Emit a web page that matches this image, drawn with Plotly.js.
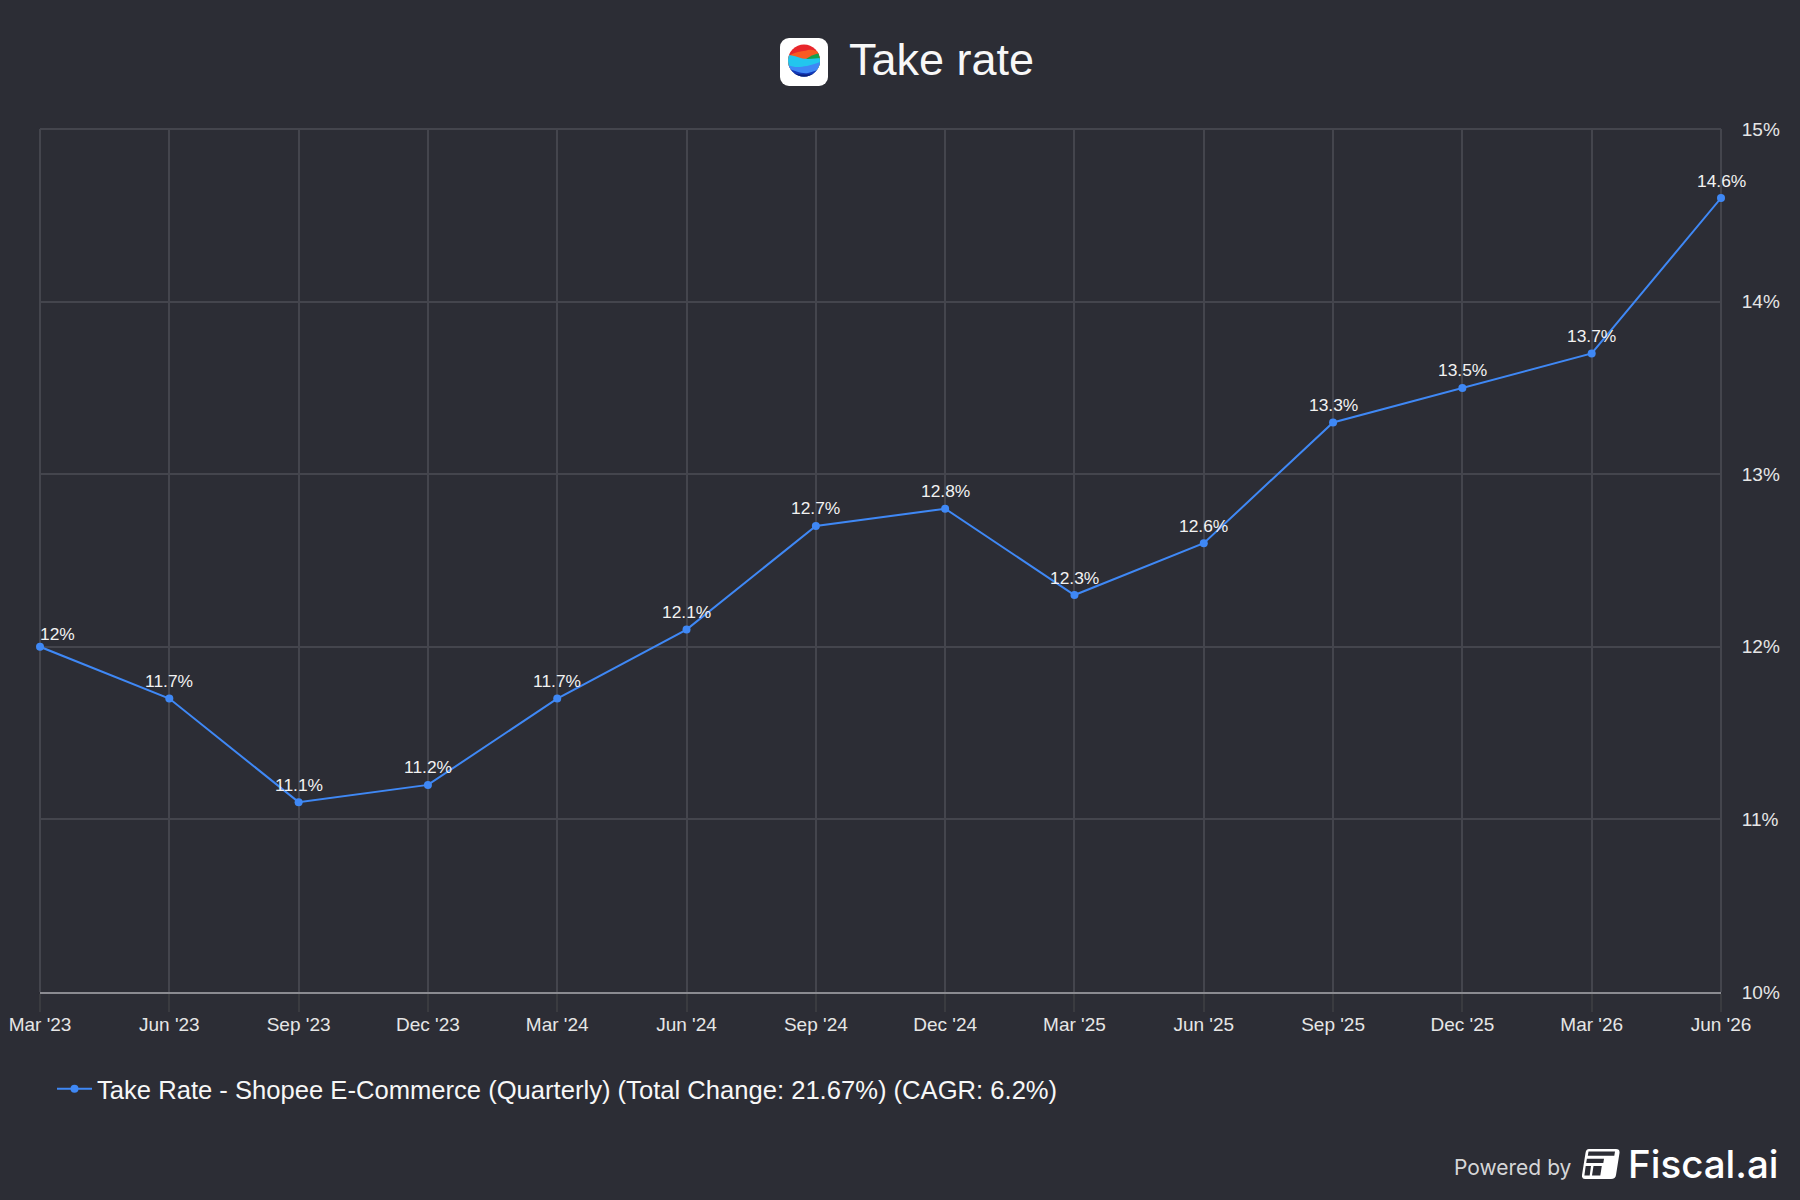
<!DOCTYPE html>
<html>
<head>
<meta charset="utf-8">
<script src="https://cdn.plot.ly/plotly-3.0.1.min.js"></script>
<style>
  html, body { margin: 0; padding: 0; background: #2c2d35; }
  #chart { width: 1800px; height: 1200px; }
</style>
</head>
<body>
<div id="chart"></div>
<script>
// Take rate, quarterly
const quarters = ["Mar '23", "Jun '23", "Sep '23", "Dec '23", "Mar '24", "Jun '24", "Sep '24",
  "Dec '24", "Mar '25", "Jun '25", "Sep '25", "Dec '25", "Mar '26", "Jun '26"];
const takeRate = [12, 11.7, 11.1, 11.2, 11.7, 12.1, 12.7, 12.8, 12.3, 12.6, 13.3, 13.5, 13.7, 14.6];
const yTicks = [10, 11, 12, 13, 14, 15];
const seriesName = "Take Rate - Shopee E-Commerce (Quarterly) (Total Change: 21.67%) (CAGR: 6.2%)";

const bg = "#2c2d35";
const grid = "#44454d";
const blue = "#3f88f5";
const font = "'Liberation Sans', Arial, sans-serif";

const plotW = 1681, plotH = 863, plotL = 40, plotBottom = 992;

// app icon next to the title
const shopeeIcon = `<svg xmlns="http://www.w3.org/2000/svg" viewBox="0 0 48 48">
<rect width="48" height="48" rx="9" fill="#fff"/>
<clipPath id="c"><circle cx="24" cy="22.5" r="16"/></clipPath>
<g clip-path="url(#c)">
<rect x="8" y="6" width="32" height="33" fill="#e8262b"/>
<path d="M8 19 C14 13 22 14 28 12 C33 11 37 13 40 15 V40 H8Z" fill="#f95a22"/>
<path d="M26 21 C30 18 35 16 40 15 V28 H26Z" fill="#12a150"/>
<path d="M8 17 C15 17 20 21 28 21 C33 21 37 20 40 20 V40 H8Z" fill="#22c6ee"/>
<path d="M8 27 C15 30 20 29 27 28 C32 27 37 25 40 24 V40 H8Z" fill="#3f88f5"/>
<path d="M8 30 C14 33 22 36 28 35 C33 34 37 32 40 31 V40 H8Z" fill="#1238b8"/>
<path d="M8 33 C14 36 22 38 40 35 V40 H8Z" fill="#0a1f7c"/>
</g></svg>`;

// Fiscal.ai mark in the footer
const fiscalMark = `<svg xmlns="http://www.w3.org/2000/svg" viewBox="0 0 38 30">
<path d="M7 0 H34 Q38 0 37.5 4 L34 26 Q33.5 30 29 30 H3 Q-0.5 30 0 26 L3.5 4 Q4 0 7 0Z" fill="#fff"/>
<path d="M6.5 2.5 H33 L32.3 6.7 H5.8Z M4.9 9.8 H22 L21.3 14 H4.2Z M3.7 17 H9 L7.7 26.5 H2.4Z M11.5 17 H19.8 L18.3 26.5 H10Z" fill="#2c2d35"/>
</svg>`;

const svgUri = s => "data:image/svg+xml;charset=utf-8," + encodeURIComponent(s);
const px = x => (x - plotL) / plotW;
const py = y => (plotBottom - y) / plotH;

const data = [{
  type: "scatter",
  mode: "lines+markers",
  name: seriesName,
  x: quarters,
  y: takeRate,
  line: { color: blue, width: 2 },
  marker: { color: blue, size: 8 },
  cliponaxis: false,
  hoverinfo: "x+y"
}];

// value labels; the first one is pushed inside the plot and sits a bit lower
const valueLabels = quarters.map((q, i) => ({
  text: takeRate[i] + "%",
  xref: "x",
  yref: "y",
  x: q,
  y: takeRate[i],
  xanchor: i === 0 ? "left" : "center",
  xshift: i === 0 ? -2 : 0,
  yanchor: "middle",
  yshift: i === 0 ? 13 : 17.5,
  showarrow: false,
  font: { family: font, size: 17.4, color: "#f2f2f2" }
}));

// plotly drops the grid lines on the edges of the range, so put those back
// (paper refs so they are not clipped in half by the plot area)
const edgeLine = { color: grid, width: 2 };
const edgeGrid = [
  { type: "line", xref: "paper", x0: 0, x1: 1, yref: "paper", y0: 1, y1: 1, line: edgeLine, layer: "below" },
  { type: "line", xref: "paper", x0: 0, x1: 0, yref: "paper", y0: 0, y1: 1, line: edgeLine, layer: "below" },
  { type: "line", xref: "paper", x0: 1, x1: 1, yref: "paper", y0: 0, y1: 1, line: edgeLine, layer: "below" }
];

const layout = {
  width: 1800,
  height: 1200,
  paper_bgcolor: bg,
  plot_bgcolor: bg,
  font: { family: font, color: "#e6e6e6" },
  margin: { l: plotL, r: 79, t: 129, b: 208, pad: 0 },
  title: {
    text: "Take rate",
    x: 849 / 1800,
    xanchor: "left",
    y: 1 - 59 / 1200,
    yanchor: "middle",
    font: { family: font, size: 45, color: "#f7f7f7" }
  },
  xaxis: {
    type: "category",
    categoryorder: "array",
    categoryarray: quarters,
    range: [0, 13],
    showgrid: true,
    gridcolor: grid,
    gridwidth: 2,
    ticks: "outside",
    ticklen: 18,
    tickwidth: 2,
    tickcolor: "#3a3b40",
    tickangle: 0,
    ticklabelstandoff: -4,
    tickfont: { family: font, size: 19, color: "#e6e6e6" },
    showline: true,
    linecolor: "#8b8b91",
    linewidth: 2,
    zeroline: false,
    fixedrange: true
  },
  yaxis: {
    side: "right",
    range: [10, 15],
    tickvals: yTicks,
    ticktext: yTicks.map(v => v + "%"),
    showgrid: true,
    gridcolor: grid,
    gridwidth: 2,
    ticks: "outside",
    ticklen: 16,
    tickcolor: bg,
    tickfont: { family: font, size: 19, color: "#e6e6e6" },
    showline: false,
    zeroline: false,
    fixedrange: true
  },
  shapes: edgeGrid,
  showlegend: true,
  legend: {
    orientation: "h",
    x: 52 / 1800,
    xref: "container",
    y: 1 - 1089 / 1200,
    yref: "container",
    yanchor: "middle",
    xanchor: "left",
    itemwidth: 35,
    font: { family: font, size: 25.6, color: "#f7f7f7" },
    bgcolor: "rgba(0,0,0,0)"
  },
  images: [
    { source: svgUri(shopeeIcon), xref: "paper", yref: "paper", x: px(780), y: py(38),
      sizex: 48 / plotW, sizey: 48 / plotH, xanchor: "left", yanchor: "top", layer: "above" },
    { source: svgUri(fiscalMark), xref: "paper", yref: "paper", x: px(1582), y: py(1149),
      sizex: 38 / plotW, sizey: 30 / plotH, xanchor: "left", yanchor: "top", layer: "above" }
  ],
  annotations: valueLabels.concat([
    { text: "Powered by", xref: "paper", yref: "paper", x: px(1574), y: py(1167),
      xanchor: "right", yanchor: "middle", showarrow: false,
      font: { family: "Inter, " + font, size: 21, color: "#d6d6d8" } },
    { text: "Fiscal.ai", xref: "paper", yref: "paper", x: px(1781), y: py(1164),
      xanchor: "right", yanchor: "middle", showarrow: false,
      font: { family: "Inter, " + font, size: 38.5, weight: 500, color: "#ffffff" } }
  ])
};

Plotly.newPlot("chart", data, layout, { displayModeBar: false, staticPlot: true });
</script>
</body>
</html>
